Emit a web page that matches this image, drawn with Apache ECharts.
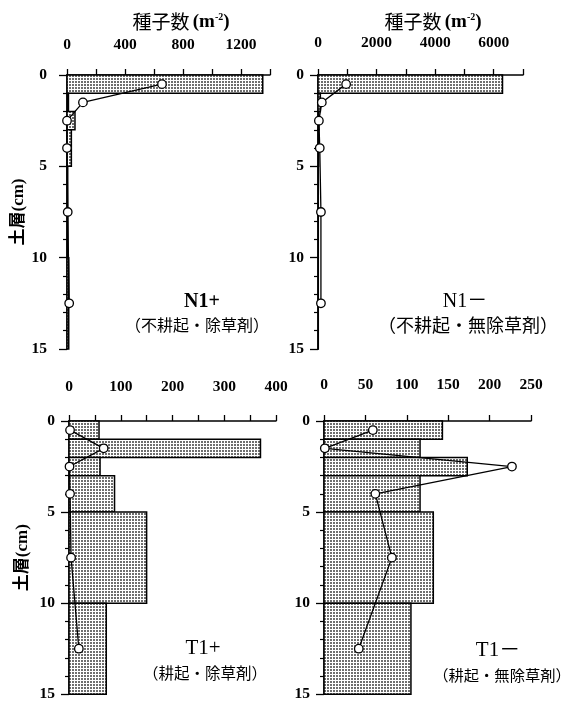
<!DOCTYPE html>
<html>
<head>
<meta charset="utf-8">
<script src="https://cdn.jsdelivr.net/npm/echarts@6/dist/echarts.min.js"></script>
<style>
  html, body { margin: 0; padding: 0; background: #fff; }
  #chart { width: 571px; height: 702px; }
</style>
</head>
<body>
<div id="chart"></div>
<script>
// soil layers (cm)
var layerTop = [0, 1, 2, 3, 5, 10];
var layerBottom = [1, 2, 3, 5, 10, 15];
var layerMid = [0.5, 1.5, 2.5, 4, 7.5, 12.5];

// seeds per m2, bars and line for each plot
var n1PlusBars = [1350, 10, 55, 30, 5, 12];
var n1PlusLine = [655, 110, 0, 0, 5, 15];
var n1MinusBars = [6300, 80, 30, 20, 10, 10];
var n1MinusLine = [960, 130, 30, 60, 100, 100];
var t1PlusBars = [58, 370, 60, 88, 150, 72];
var t1PlusLine = [2, 67, 1, 2, 4, 19];
var t1MinusBars = [143, 116, 173, 116, 132, 105];
var t1MinusLine = [59, 1, 227, 62, 82, 42];

var yTicks = [0, 5, 10, 15];

var serif = "'Liberation Serif', 'Noto Sans CJK JP', serif";
var cjk = "'Noto Sans CJK JP', sans-serif";

// stipple fill
var tile = document.createElement('canvas');
tile.width = 3; tile.height = 3;
var tc = tile.getContext('2d');
tc.fillStyle = '#fff';
tc.fillRect(0, 0, 3, 3);
tc.fillStyle = '#6e6e6e';
tc.fillRect(0, 0, 2, 2);
var stipple = { image: tile, repeat: 'repeat' };

function barData(vals) {
  return vals.map(function (v, i) { return [layerTop[i], layerBottom[i], v]; });
}
function lineData(vals) {
  return vals.map(function (v, i) { return [v, layerMid[i]]; });
}

function renderLayer(params, api) {
  var a = api.coord([0, api.value(0)]);
  var b = api.coord([api.value(2), api.value(1)]);
  return {
    type: 'rect',
    shape: { x: a[0], y: a[1], width: b[0] - a[0], height: b[1] - a[1] },
    style: { fill: stipple, stroke: '#000', lineWidth: 1.5 }
  };
}

var grids = [
  { left: 67, top: 75, width: 203, height: 274 },
  { left: 318, top: 75, width: 205, height: 274 },
  { left: 69, top: 421, width: 207, height: 274 },
  { left: 324, top: 421, width: 207, height: 274 }
];

function xAxis(idx, max, step, labelStep, offset, margin) {
  return {
    type: 'value', gridIndex: idx, position: 'top', offset: offset,
    min: 0, max: max, interval: step,
    axisLine: { show: true, lineStyle: { color: '#000', width: 1.5 } },
    axisTick: { show: true, length: 6, lineStyle: { color: '#000', width: 1.3 } },
    splitLine: { show: false },
    axisLabel: {
      margin: margin, color: '#000', fontFamily: serif, fontSize: 15.5, fontWeight: 'bold',
      formatter: function (v) { return v % labelStep === 0 ? String(v) : ''; }
    }
  };
}

function yAxis(idx, margin, withName) {
  var ax = {
    type: 'value', gridIndex: idx, inverse: true,
    min: 0, max: 15, interval: 5,
    axisLine: { show: true, lineStyle: { color: '#000', width: 1.5 } },
    axisTick: { show: true, length: 8, lineStyle: { color: '#000', width: 1.3 } },
    minorTick: { show: true, splitNumber: 5, length: 4, lineStyle: { color: '#000', width: 1.2 } },
    splitLine: { show: false },
    axisLabel: {
      margin: margin, color: '#000', fontFamily: serif, fontSize: 15.5, fontWeight: 'bold',
      formatter: function (v) { return yTicks.indexOf(v) >= 0 ? String(v) : ''; }
    }
  };
  if (withName) {
    ax.name = '土層(cm)';
    ax.nameLocation = 'middle';
    ax.nameRotate = 90;
    ax.nameGap = 38;
    ax.nameTextStyle = { color: '#000', fontFamily: serif, fontSize: 17, fontWeight: 'bold' };
  }
  return ax;
}

function layers(idx, vals) {
  return {
    type: 'custom', xAxisIndex: idx, yAxisIndex: idx,
    renderItem: renderLayer,
    encode: { x: 2, y: [0, 1] },
    data: barData(vals), z: 2
  };
}

function profile(idx, vals) {
  return {
    type: 'line', xAxisIndex: idx, yAxisIndex: idx,
    data: lineData(vals),
    symbol: 'circle', symbolSize: 8.5, z: 3,
    lineStyle: { color: '#000', width: 1.3 },
    itemStyle: { color: '#fff', borderColor: '#000', borderWidth: 1.3 }
  };
}

function label(x, y, text, size, family, weight) {
  return {
    type: 'text', x: x, y: y,
    style: {
      text: text, fill: '#000', align: 'center', verticalAlign: 'middle',
      fontFamily: family, fontSize: size, fontWeight: weight || 'normal'
    }
  };
}

function seedTitle(x) {
  return {
    type: 'text', x: x, y: 22,
    style: {
      text: '{c|種子数} {s|(m}{p|-2}{s|)}',
      align: 'center', verticalAlign: 'middle',
      rich: {
        c: { fontFamily: cjk, fontSize: 19, fill: '#000' },
        s: { fontFamily: serif, fontSize: 19, fontWeight: 'bold', fill: '#000' },
        p: { fontFamily: serif, fontSize: 10, fontWeight: 'bold', fill: '#000', verticalAlign: 'top', padding: [0, 0, 8, 0] }
      }
    }
  };
}

var chart = echarts.init(document.getElementById('chart'), null, { renderer: 'canvas' });
chart.setOption({
  animation: false,
  backgroundColor: '#fff',
  grid: grids,
  xAxis: [
    xAxis(0, 1400, 200, 400, 11, 11),
    xAxis(1, 7000, 1000, 2000, 12, 12),
    xAxis(2, 400, 50, 100, 10, 16),
    xAxis(3, 250, 50, 50, 10, 18)
  ],
  yAxis: [
    yAxis(0, 20, true),
    yAxis(1, 14, false),
    yAxis(2, 14, true),
    yAxis(3, 14, false)
  ],
  series: [
    layers(0, n1PlusBars), profile(0, n1PlusLine),
    layers(1, n1MinusBars), profile(1, n1MinusLine),
    layers(2, t1PlusBars), profile(2, t1PlusLine),
    layers(3, t1MinusBars), profile(3, t1MinusLine)
  ],
  graphic: [
    seedTitle(181),
    seedTitle(433),
    label(202, 302, 'N1+', 20, serif, 'bold'),
    label(197, 325, '（不耕起・除草剤）', 16, cjk),
    label(465, 302, 'N1－', 20, serif),
    label(468, 325, '（不耕起・無除草剤）', 18, cjk),
    label(203, 648, 'T1+', 21, serif),
    label(205, 673, '（耕起・除草剤）', 15.5, cjk),
    label(498, 650, 'T1－', 21, serif),
    label(502, 675, '（耕起・無除草剤）', 15.3, cjk)
  ]
});
</script>
</body>
</html>
